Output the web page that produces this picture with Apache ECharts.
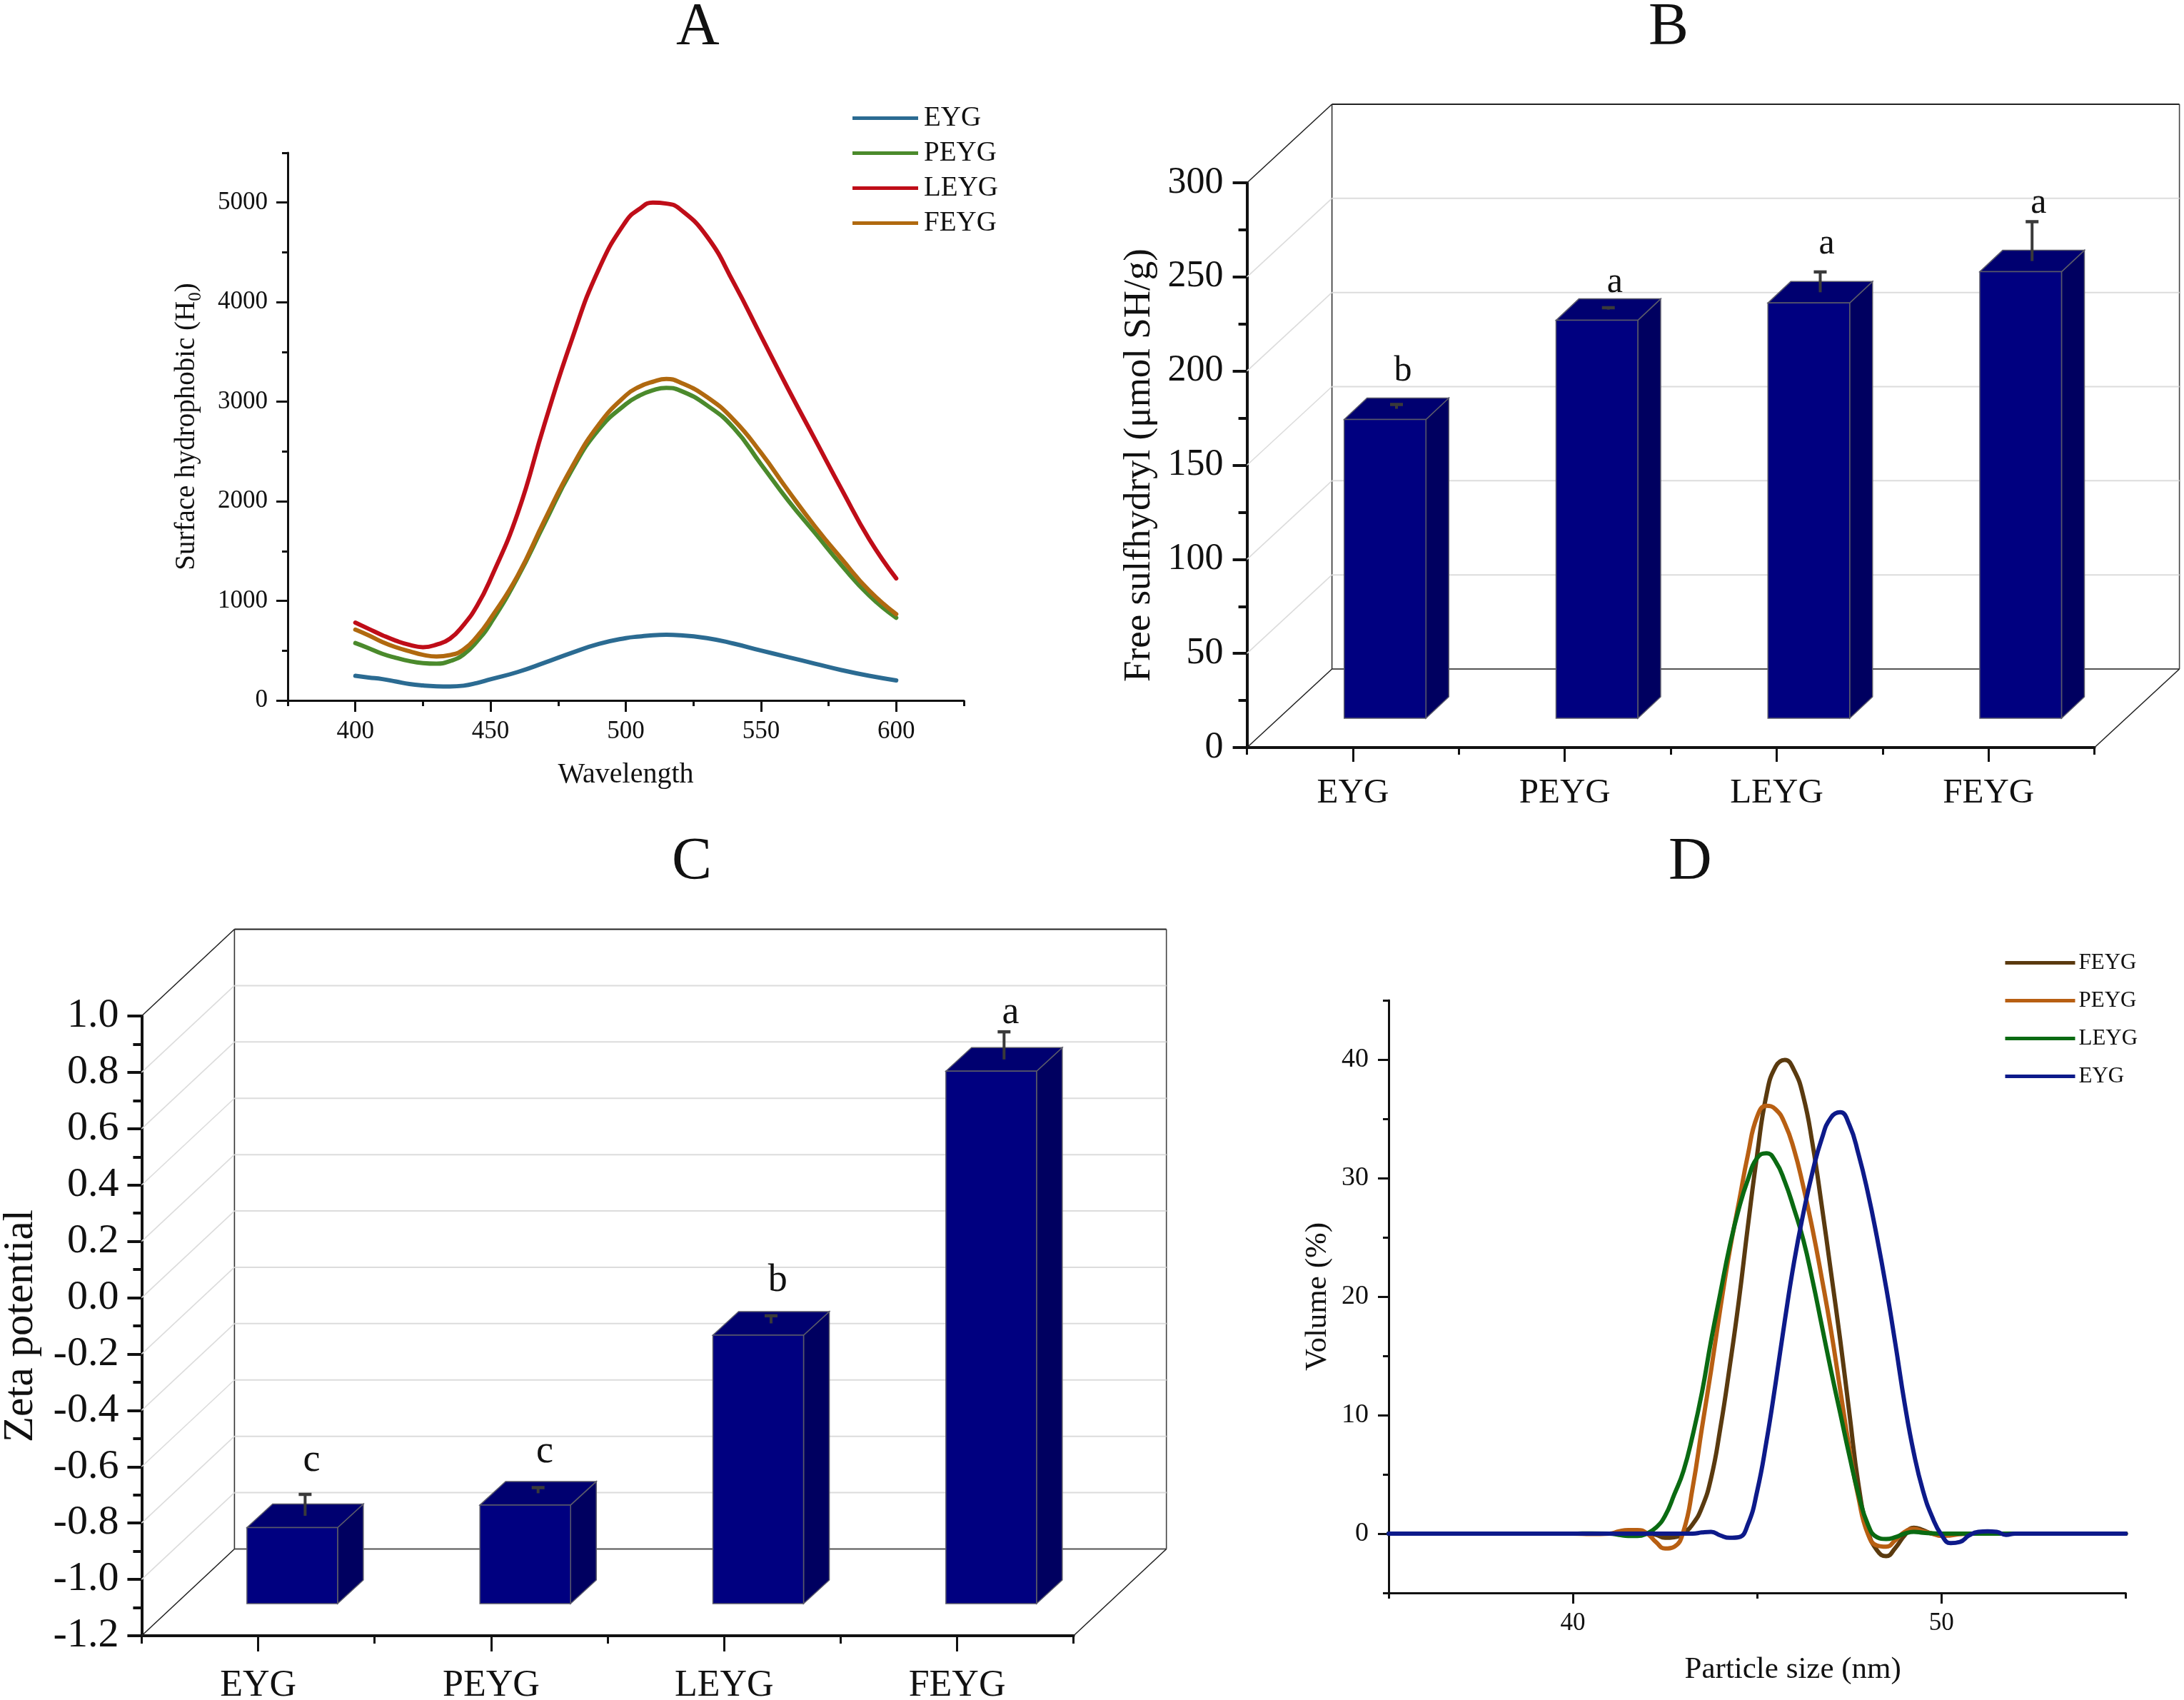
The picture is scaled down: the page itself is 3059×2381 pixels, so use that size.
<!DOCTYPE html>
<html><head><meta charset="utf-8">
<style>html,body{margin:0;padding:0;background:#fff}#c{width:3059px;height:2381px}</style>
<script src="https://cdn.jsdelivr.net/npm/echarts@6/dist/echarts.min.js"></script>
</head><body><div id="c"></div>
<script>
// ---------- data ----------
const groups = ['EYG','PEYG','LEYG','FEYG'];

const wavelength = [400,405,410,415,420,425,430,435,440,445,450,460,470,480,490,500,505,510,515,520,530,540,550,560,570,580,590,600];
const hoEYG  = [247,230,214,190,165,150,142,140,148,175,212,285,379,478,567,626,642,655,659,655,626,570,501,435,369,303,247,201];
const hoPEYG = [576,524,468,428,395,375,369,395,461,593,774,1235,1779,2310,2720,2975,3060,3115,3139,3113,2964,2734,2372,2009,1680,1350,1054,830];
const hoLEYG = [781,718,655,600,558,535,560,620,758,950,1219,1877,2780,3620,4330,4810,4935,5000,4990,4935,4660,4190,3660,3130,2620,2110,1620,1225];
const hoFEYG = [711,652,586,534,494,458,441,455,511,642,823,1252,1812,2340,2770,3063,3150,3200,3228,3195,3047,2816,2487,2108,1746,1416,1103,866];

const sulfhydryl      = [158.7,211.4,220.6,237.2];
const sulfhydrylError = [2.3,1,10.8,20.9];
const sulfhydrylSig   = ['b','a','a','a'];
const sulfhydrylSigAt = [200,247,267.5,289];

const zeta      = [-0.93,-0.85,-0.247,0.69];
const zetaError = [0.076,0.02,0.027,0.098];
const zetaSig   = ['c','c','b','a'];
const zetaSigAt = [-0.579,-0.548,0.06,1.01];

const sizeNm = [35,38,40,40.5,41,41.25,41.5,41.75,
  42,42.25,42.5,42.75,43,43.25,43.5,43.75,44,44.25,44.5,44.75,45,45.25,45.5,45.75,
  46,46.25,46.5,46.75,47,47.25,47.5,47.75,48,48.25,48.5,48.75,49,49.25,49.5,49.75,
  50,50.25,50.5,50.75,51,51.25,51.5,51.75,52,53,55];
const volFEYG = [0,0,0,0,0,0.1,0.2,0.2,
  0,-0.1,-0.35,-0.3,0.05,0.8,2.2,4.7,8.9,14,19.6,26,32,37,39.4,39.97,
  39.1,36.9,32.9,27.7,22.1,16.4,10.2,4.1,0.3,-1.4,-1.9,-1.2,-0.15,0.5,0.3,0,
  -0.05,0,0,0,0,0,0,0,0,0,0];
const volPEYG = [0,0,0,-0.03,0,0.2,0.3,0.3,
  0.05,-0.7,-1.25,-1.1,0.2,3.9,8.9,13.8,19,23.8,27.9,32,35.2,36.1,35.8,34.6,
  32.4,29.3,25.7,21.6,17.2,12.2,7.2,3,0,-1,-1.1,-0.55,0.15,0.4,0.2,0,
  -0.2,-0.15,-0.05,0,0,0,0,0,0,0,0];
const volLEYG = [0,0,0,0.02,0,-0.1,-0.2,-0.2,
  0,0.5,1.5,3.3,5.3,8.3,11.9,16.3,20.3,24.2,27.4,29.9,31.7,32.1,31.4,29.7,
  27.4,24.8,21.4,17.6,13.8,10.2,6.6,3.3,0.8,-0.3,-0.45,-0.3,0,0.15,0.08,0.03,
  0,0,0,0,0,0,0,0,0,0,0];
const volEYG  = [0,0,0,0,0,0,0,0,
  0,0,0,0,0,0,0.1,0.15,-0.15,-0.35,-0.3,0.8,3.6,7.75,12.7,18,
  22.9,27,30.5,33.3,35.1,35.55,34.5,32,28.8,25,20.75,16,11,6.8,3.6,1.4,
  -0.1,-0.8,-0.7,-0.15,0.15,0.2,0.15,-0.1,0,0,0];

const hoMajorY = [0,1000,2000,3000,4000,5000];
const hoMinorY = [500,1500,2500,3500,4500,5500];
const hoMajorX = [400,450,500,550,600];
const hoMinorX = [375,425,475,525,575,625];
const sizeMajorX = [40,50];
const sizeMinorX = [35,45,55];
const volMajorY = [0,10,20,30,40];
const volMinorY = [-5,5,15,25,35,45];
const sulfTicks = [0,50,100,150,200,250,300];
const zetaTicks = [-1.2,-1,-0.8,-0.6,-0.4,-0.2,0,0.2,0.4,0.6,0.8,1];

// ---------- style ----------
const SERIF = '"Liberation Serif","Times New Roman",serif';
const INK = '#111';
const colA = {EYG:'#2b6b92',PEYG:'#4b8a2c',LEYG:'#bf0d18',FEYG:'#b0690f'};
const colD = {FEYG:'#5a3a0f',PEYG:'#b85f12',LEYG:'#0a6a12',EYG:'#0d1a8a'};
const styleB = {dx:119,dy:110,lift:41,barW:114.5,sideX:32,sideY:30,shift:45,labelDx:70,min:0,max:300};
const styleC = {dx:130,dy:121.5,lift:45,barW:127,sideX:36,sideY:33,shift:47.8,labelDx:75,min:-1.2,max:1};

function wallRender(st){
  return function(params, api){
    const cs = params.coordSys, v = api.value(1);
    const y = api.coord([0,v])[1], x0 = cs.x, x1 = cs.x + cs.width;
    const dark = v === st.min || v === st.max;
    const line = (a,b,c,d,col,w)=>({type:'line',shape:{x1:a,y1:b,x2:c,y2:d},style:{stroke:col,lineWidth:w}});
    const kids = [
      line(x0+st.dx,y-st.dy,x1+st.dx,y-st.dy, v===st.max?'#222':(v===st.min?'#555':'#dcdcdc'), 2),
      line(x0,y,x0+st.dx,y-st.dy, dark?'#222':'#dcdcdc', 1.6)
    ];
    if(v===st.min){
      const yt = api.coord([0,st.max])[1];
      kids.push(line(x0+st.dx,yt-st.dy,x0+st.dx,y-st.dy,'#333',1.6));
      kids.push(line(x1+st.dx,yt-st.dy,x1+st.dx,y-st.dy,'#444',1.6));
      kids.push(line(x1,y,x1+st.dx,y-st.dy,'#222',1.6));
    }
    return {type:'group',silent:true,children:kids};
  };
}
function barRender(st,sig,sigFont){
  return function(params, api){
    const i = api.value(0), v = api.value(1), err = api.value(2), at = api.value(3);
    const c = api.coord([i,v]), base = api.coord([i,st.min]);
    const l = c[0]+st.shift-st.barW/2, r = l+st.barW;
    const t = c[1]-st.lift, b = base[1]-st.lift;
    const sx = st.sideX, sy = st.sideY;
    const edge = {stroke:'#5a5a6a',lineWidth:1.5};
    const ex = (l+r)/2 + sx/2;
    const ey0 = t - sy/2, ey1 = api.coord([i,v+err])[1]-st.lift-sy/2;
    return {type:'group',children:[
      {type:'polygon',shape:{points:[[r,b],[r+sx,b-sy],[r+sx,t-sy],[r,t]]},style:{fill:'#000060',...edge}},
      {type:'polygon',shape:{points:[[l,t],[l+sx,t-sy],[r+sx,t-sy],[r,t]]},style:{fill:'#000070',...edge}},
      {type:'rect',shape:{x:l,y:t,width:st.barW,height:b-t},style:{fill:'#000080',...edge}},
      {type:'line',shape:{x1:ex,y1:ey0,x2:ex,y2:ey1},style:{stroke:'#3a3a3a',lineWidth:4}},
      {type:'line',shape:{x1:ex-9,y1:ey1,x2:ex+9,y2:ey1},style:{stroke:'#3a3a3a',lineWidth:4.5}},
      {type:'text',style:{x:c[0]+st.labelDx,y:api.coord([i,at])[1],text:sig[i],fontSize:sigFont,fontFamily:SERIF,fill:INK,align:'center',verticalAlign:'middle'}}
    ]};
  };
}
const axLine = w=>({show:true,onZero:false,lineStyle:{color:INK,width:w}});
const noAxis = {axisLine:{show:false,onZero:false},axisLabel:{show:false},splitLine:{show:false}};
function valueAxis(grid,pos,min,max,major,fs,margin,len,w,extra,labelPad){
  return Object.assign({type:'value',gridIndex:grid,position:pos,min,max,
    axisLine:axLine(w),splitLine:{show:false},
    axisTick:{show:true,inside:false,length:len,lineStyle:{color:INK,width:w},customValues:major},
    axisLabel:{fontFamily:SERIF,fontSize:fs,color:INK,margin,customValues:major,formatter:v=>String(v),hideOverlap:false,showMinLabel:true,showMaxLabel:true,padding:labelPad||0},
    nameTextStyle:{fontFamily:SERIF,color:INK}},extra||{});
}
function minorAxis(grid,pos,min,max,minor,len,w){
  return Object.assign({type:'value',gridIndex:grid,position:pos,min,max,
    axisTick:{show:true,length:len,lineStyle:{color:INK,width:w},customValues:minor}},noAxis,{axisLabel:{show:false,customValues:minor}});
}
function lineSeries(name,xs,ys,color,xi,yi,width){
  return {type:'line',name,xAxisIndex:xi,yAxisIndex:yi,data:xs.map((x,i)=>[x,ys[i]]),smooth:0.5,showSymbol:false,symbol:'none',
    lineStyle:{color,width,cap:'round',join:'round'},itemStyle:{color},clip:false,z:3,silent:true};
}
function legendOf(order,cols,left,top,fs,w,gap,pad){
  const ts = {fontFamily:SERIF,fontSize:fs,color:INK,padding:[0,0,0,pad]};
  return {orient:'vertical',left,top,itemWidth:w,itemHeight:5,itemGap:gap,icon:'rect',selectedMode:false,
    data:order.map(n=>({name:n,icon:'rect',itemStyle:{color:cols[n],borderWidth:0},textStyle:ts})),
    textStyle:ts,padding:0};
}
const panelTitle = (t,x,y)=>({type:'text',left:x,top:y,style:{text:t,font:'84px '+SERIF,fill:INK}});
const wallData = ts=>ts.map(v=>[0,v]);

const option = {
  animation:false,
  backgroundColor:'#fff',
  textStyle:{fontFamily:SERIF},
  graphic:[panelTitle('A',947,-2),panelTitle('B',2309,-2),panelTitle('C',941,1167),panelTitle('D',2337,1167)],
  legend:[
    legendOf(groups,colA,1194,146,39,92,10,3),
    legendOf(['FEYG','PEYG','LEYG','EYG'],colD,2808.5,1333,31,98,22,0)
  ],
  grid:[
    {left:403,top:214,width:947,height:767,outerBoundsMode:'none'},
    {left:1746.6,top:256,width:1187,height:791,outerBoundsMode:'none'},
    {left:198.4,top:1423,width:1305.3,height:868,outerBoundsMode:'none'},
    {left:1945,top:1401,width:1032.4,height:830,outerBoundsMode:'none'}
  ],
  xAxis:[
    valueAxis(0,'bottom',375,625,hoMajorX,35,26,16,3,{name:'Wavelength',nameLocation:'middle',nameGap:84,nameTextStyle:{fontFamily:SERIF,fontSize:40,color:INK}}),
    minorAxis(0,'bottom',375,625,hoMinorX,8,3),
    {type:'category',gridIndex:1,position:'bottom',data:groups,boundaryGap:true,
      axisLine:axLine(4),splitLine:{show:false},
      axisTick:{show:true,alignWithLabel:true,length:20,lineStyle:{color:INK,width:3}},
      axisLabel:{fontFamily:SERIF,fontSize:49,color:INK,margin:40,interval:0}},
    Object.assign({type:'category',gridIndex:1,position:'bottom',data:groups,boundaryGap:true,
      axisTick:{show:true,alignWithLabel:false,length:10,lineStyle:{color:INK,width:3},interval:0}},noAxis),
    {type:'category',gridIndex:2,position:'bottom',data:groups,boundaryGap:true,
      axisLine:axLine(4),splitLine:{show:false},
      axisTick:{show:true,alignWithLabel:true,length:22,lineStyle:{color:INK,width:3}},
      axisLabel:{fontFamily:SERIF,fontSize:52,color:INK,margin:44,interval:0}},
    Object.assign({type:'category',gridIndex:2,position:'bottom',data:groups,boundaryGap:true,
      axisTick:{show:true,alignWithLabel:false,length:11,lineStyle:{color:INK,width:3},interval:0}},noAxis),
    valueAxis(3,'bottom',35,55,sizeMajorX,35,25,15,3,{name:'Particle size (nm)',nameLocation:'middle',nameGap:86,nameTextStyle:{fontFamily:SERIF,fontSize:43,color:INK,padding:[0,0,0,100]}}),
    minorAxis(3,'bottom',35,55,sizeMinorX,8,3)
  ],
  yAxis:[
    valueAxis(0,'left',0,5500,hoMajorY,35,28,16,3,{name:'{n|Surface hydrophobic (H}{s|0}{n|)}',nameLocation:'middle',nameGap:116,nameRotate:90,
      nameTextStyle:{fontFamily:SERIF,color:INK,rich:{n:{fontFamily:SERIF,fontSize:39,color:INK,lineHeight:50},s:{fontFamily:SERIF,fontSize:25,color:INK,lineHeight:50,verticalAlign:'bottom'}}}},[4,0,0,0]),
    minorAxis(0,'left',0,5500,hoMinorY,8,3),
    {type:'value',gridIndex:1,position:'left',min:0,max:300,interval:50,
      axisLine:axLine(4),splitLine:{show:false},
      axisTick:{show:true,length:20,lineStyle:{color:INK,width:4}},
      minorTick:{show:true,splitNumber:2,length:12,lineStyle:{color:INK,width:4}},minorSplitLine:{show:false},
      axisLabel:{fontFamily:SERIF,fontSize:52,color:INK,margin:33,padding:[6,0,0,0]},
      name:'Free sulfhydryl (μmol SH/g)',nameLocation:'middle',nameGap:124,nameRotate:90,nameTextStyle:{fontFamily:SERIF,fontSize:53,color:INK}},
    {type:'value',gridIndex:2,position:'left',min:-1.2,max:1,interval:0.2,
      axisLine:axLine(4),splitLine:{show:false},
      axisTick:{show:true,length:20,lineStyle:{color:INK,width:4}},
      minorTick:{show:true,splitNumber:2,length:12,lineStyle:{color:INK,width:4}},minorSplitLine:{show:false},
      axisLabel:{fontFamily:SERIF,fontSize:58,color:INK,margin:32,padding:[6,0,0,0],formatter:v=>v.toFixed(1)},
      name:'Zeta potential',nameLocation:'middle',nameGap:139,nameRotate:90,nameTextStyle:{fontFamily:SERIF,fontSize:59,color:INK}},
    valueAxis(3,'left',-5,45,volMajorY,38,28,15,3,{name:'Volume (%)',nameLocation:'middle',nameGap:78,nameRotate:90,nameTextStyle:{fontFamily:SERIF,fontSize:43,color:INK}}),
    minorAxis(3,'left',-5,45,volMinorY,8,3)
  ],
  series:[
    lineSeries('EYG',wavelength,hoEYG,colA.EYG,0,0,6),
    lineSeries('PEYG',wavelength,hoPEYG,colA.PEYG,0,0,6),
    lineSeries('LEYG',wavelength,hoLEYG,colA.LEYG,0,0,6),
    lineSeries('FEYG',wavelength,hoFEYG,colA.FEYG,0,0,6),
    {type:'custom',name:'wall B',xAxisIndex:2,yAxisIndex:2,renderItem:wallRender(styleB),data:wallData(sulfTicks),encode:{x:0,y:1},z:1,silent:true},
    {type:'custom',name:'Free sulfhydryl',xAxisIndex:2,yAxisIndex:2,renderItem:barRender(styleB,sulfhydrylSig,50),
      data:sulfhydryl.map((v,i)=>[i,v,sulfhydrylError[i],sulfhydrylSigAt[i]]),encode:{x:0,y:1},z:4,silent:true},
    {type:'custom',name:'wall C',xAxisIndex:4,yAxisIndex:3,renderItem:wallRender(styleC),data:wallData(zetaTicks),encode:{x:0,y:1},z:1,silent:true},
    {type:'custom',name:'Zeta potential',xAxisIndex:4,yAxisIndex:3,renderItem:barRender(styleC,zetaSig,54),
      data:zeta.map((v,i)=>[i,v,zetaError[i],zetaSigAt[i]]),encode:{x:0,y:1},z:4,silent:true},
    lineSeries('FEYG',sizeNm,volFEYG,colD.FEYG,6,4,6),
    lineSeries('PEYG',sizeNm,volPEYG,colD.PEYG,6,4,6),
    lineSeries('LEYG',sizeNm,volLEYG,colD.LEYG,6,4,6),
    lineSeries('EYG',sizeNm,volEYG,colD.EYG,6,4,6)
  ]
};
const chart = echarts.init(document.getElementById('c'),null,{renderer:'canvas',width:3059,height:2381});
chart.setOption(option);
</script></body></html>
